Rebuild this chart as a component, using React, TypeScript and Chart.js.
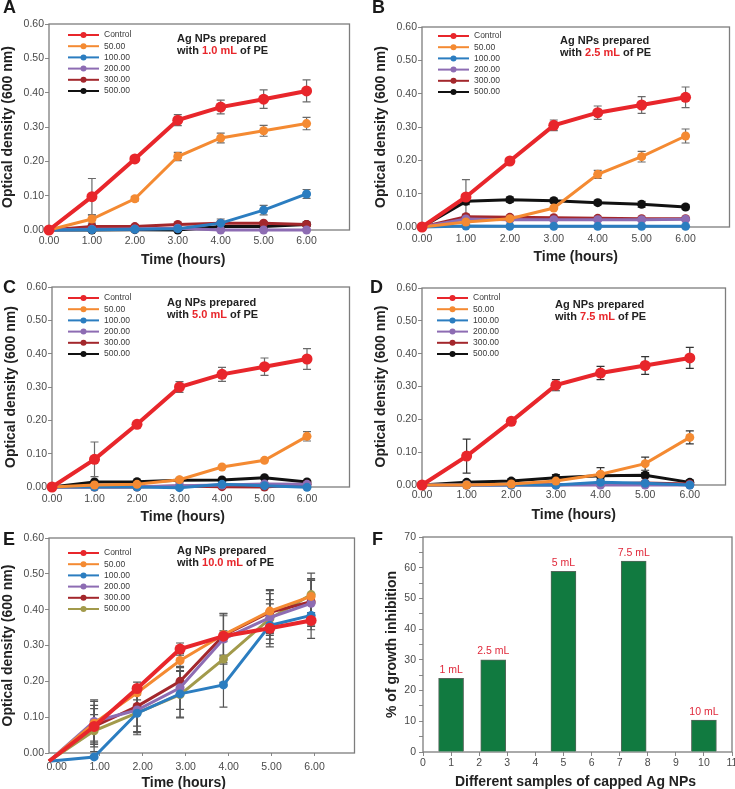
import React, { useEffect, useRef } from 'react';
import { Chart, registerables } from 'chart.js';

Chart.register(...registerables);

const FONT = '"Liberation Sans", Arimo, Arial, Helvetica, sans-serif';
Chart.defaults.font.family = FONT;

// ---------- shared ----------
const HOURS = [0, 1, 2, 3, 4, 5, 6];
const HOURS_E = [-0.18, 0.87, 1.87, 2.87, 3.88, 4.96, 5.92];
const HOUR_TICKS = [0, 1, 2, 3, 4, 5, 6];
const SERIES_NAMES = ['Control', '50.00', '100.00', '200.00', '300.00', '500.00'];
const COLORS_AD = ['#e8262b', '#f48a32', '#2b7dc0', '#8d6cb3', '#a3272c', '#111111'];
const COLORS_E = ['#e8262b', '#f48a32', '#2b7dc0', '#8d6cb3', '#a3272c', '#a29a4b'];

// ---------- Panel A (1.0 mL) ----------
const A_CONTROL = [0, 0.097, 0.207, 0.32, 0.358, 0.381, 0.405];
const A_50 = [0, 0.032, 0.091, 0.214, 0.268, 0.289, 0.31];
const A_100 = [0, 0.001, 0.002, 0.004, 0.02, 0.058, 0.105];
const A_200 = [0, 0.002, 0.003, 0.005, 0.0, 0.0, 0.0];
const A_300 = [0, 0.01, 0.01, 0.016, 0.02, 0.02, 0.016];
const A_500 = [0, 0.0, 0.001, 0.0, 0.01, 0.01, 0.016];
const A_CONTROL_ERR = [0, 0.053, 0.006, 0.016, 0.02, 0.027, 0.032];
const A_50_ERR = [0, 0.012, 0.006, 0.012, 0.014, 0.016, 0.018];
const A_100_ERR = [0, 0, 0, 0, 0.012, 0.014, 0.013];
const A_300_ERR = [0, 0.006, 0.006, 0.004, 0.006, 0.004, 0.003];

// ---------- Panel B (2.5 mL) ----------
const B_CONTROL = [0, 0.09, 0.198, 0.305, 0.343, 0.366, 0.389];
const B_50 = [0, 0.015, 0.025, 0.057, 0.158, 0.211, 0.273];
const B_100 = [0, 0.003, 0.002, 0.002, 0.002, 0.002, 0.002];
const B_200 = [0, 0.024, 0.022, 0.022, 0.022, 0.022, 0.023];
const B_300 = [0, 0.031, 0.029, 0.028, 0.026, 0.025, 0.025];
const B_500 = [0, 0.077, 0.082, 0.079, 0.073, 0.068, 0.06];
const B_CONTROL_ERR = [0, 0.052, 0.007, 0.016, 0.02, 0.025, 0.031];
const B_50_ERR = [0, 0, 0, 0, 0.012, 0.016, 0.021];
const B_500_ERR = [0, 0.01, 0.008, 0.007, 0.007, 0.009, 0.007];

// ---------- Panel C (5.0 mL) ----------
const C_CONTROL = [0, 0.083, 0.188, 0.3, 0.338, 0.361, 0.384];
const C_50 = [0, 0.006, 0.008, 0.022, 0.06, 0.08, 0.152];
const C_100 = [0, 0.0, 0.0, -0.002, 0.008, 0.004, -0.001];
const C_200 = [0, 0.001, 0.001, 0.004, 0.006, 0.009, 0.008];
const C_300 = [0, 0.0, 0.0, 0.003, 0.001, 0.0, 0.008];
const C_500 = [0, 0.015, 0.016, 0.02, 0.021, 0.028, 0.015];
const C_CONTROL_ERR = [0, 0.052, 0.007, 0.016, 0.021, 0.026, 0.031];
const C_50_ERR = [0, 0, 0, 0, 0, 0, 0.014];

// ---------- Panel D (7.5 mL) ----------
const D_CONTROL = [0, 0.088, 0.194, 0.304, 0.341, 0.364, 0.387];
const D_50 = [0, 0.0, 0.003, 0.012, 0.033, 0.065, 0.145];
const D_100 = [0, 0.0, 0.0, 0.0, 0.008, 0.005, 0.0];
const D_200 = [0, 0, 0, 0, 0, 0, 0];
const D_300 = [0, 0.0, 0.001, 0.001, 0.003, 0.006, 0.003];
const D_500 = [0, 0.008, 0.012, 0.022, 0.028, 0.03, 0.008];
const D_CONTROL_ERR = [0, 0.052, 0.008, 0.017, 0.02, 0.027, 0.032];
const D_50_ERR = [0, 0, 0, 0, 0.02, 0.02, 0.02];
const D_500_ERR = [0, 0.005, 0.007, 0.01, 0.01, 0.008, 0.007];

// ---------- Panel E (10.0 mL) ----------
const E_CONTROL = [-0.023, 0.074, 0.18, 0.29, 0.326, 0.348, 0.37];
const E_50 = [-0.023, 0.083, 0.168, 0.258, 0.33, 0.396, 0.437];
const E_100 = [-0.023, -0.011, 0.111, 0.165, 0.19, 0.356, 0.384];
const E_200 = [-0.023, 0.088, 0.12, 0.182, 0.318, 0.378, 0.418];
const E_300 = [-0.023, 0.074, 0.13, 0.2, 0.328, 0.393, 0.422];
const E_500 = [-0.023, 0.062, 0.112, 0.163, 0.262, 0.375, 0.442];
const E_CONTROL_ERR = [0, 0.07, 0.018, 0.017, 0.015, 0.03, 0.05];
const E_50_ERR = [0, 0.05, 0.02, 0.02, 0.06, 0.06, 0.045];
const E_100_ERR = [0, 0, 0.06, 0.065, 0.062, 0.06, 0.04];
const E_200_ERR = [0, 0.06, 0.06, 0.06, 0.07, 0.05, 0.065];
const E_300_ERR = [0, 0.05, 0.055, 0.04, 0.055, 0.06, 0.065];
const E_500_ERR = [0, 0.045, 0.055, 0.065, 0.065, 0.07, 0.06];

// ---------- Panel F ----------
const F_X = [1, 2.5, 5, 7.5, 10];
const F_VALUES = [24, 30, 58.8, 62.2, 10.4];
const F_LABELS = ['1 mL', '2.5 mL', '5 mL', '7.5 mL', '10 mL'];

const Y_W = 49;
const PAD_T = 12;
const X_H = 40;

// ---------- plugins ----------
const framePlugin = {
  id: 'frame',
  beforeDatasetsDraw(chart: any) {
    const { ctx, chartArea: a } = chart;
    ctx.save();
    ctx.strokeStyle = '#7d7d7d';
    ctx.lineWidth = 1.3;
    ctx.strokeRect(a.left, a.top, a.right - a.left, a.bottom - a.top);
    ctx.restore();
  },
};

const errPlugin = {
  id: 'errbars',
  beforeDatasetsDraw(chart: any, _args: any, opts: any) {
    const errs = opts.errors;
    if (!errs) return;
    const { ctx } = chart;
    const ys = chart.scales.y;
    ctx.save();
    ctx.strokeStyle = opts.color || '#666';
    ctx.lineWidth = 1.2;
    chart.data.datasets.forEach((ds: any, i: number) => {
      const e = errs[i];
      if (!e) return;
      const meta = chart.getDatasetMeta(i);
      meta.data.forEach((pt: any, j: number) => {
        if (!e[j]) return;
        const v = ds.data[j].y;
        const x = pt.x;
        const y1 = ys.getPixelForValue(v + e[j]);
        const y2 = ys.getPixelForValue(v - e[j]);
        ctx.beginPath();
        ctx.moveTo(x, y1);
        ctx.lineTo(x, y2);
        ctx.moveTo(x - 4, y1);
        ctx.lineTo(x + 4, y1);
        ctx.moveTo(x - 4, y2);
        ctx.lineTo(x + 4, y2);
        ctx.stroke();
      });
    });
    ctx.restore();
  },
};

const keyPlugin = {
  id: 'seriesKey',
  afterDatasetsDraw(chart: any, _args: any, opts: any) {
    if (opts.dx == null) return;
    const { ctx, chartArea: a } = chart;
    ctx.save();
    ctx.font = `8.5px ${FONT}`;
    ctx.textBaseline = 'middle';
    chart.data.datasets.forEach((ds: any, i: number) => {
      const y = a.top + opts.dy + i * 11.2;
      const x0 = a.left + opts.dx;
      const len = 31;
      ctx.strokeStyle = ds.borderColor;
      ctx.lineWidth = 2;
      ctx.beginPath();
      ctx.moveTo(x0, y);
      ctx.lineTo(x0 + len, y);
      ctx.stroke();
      ctx.fillStyle = ds.borderColor;
      ctx.beginPath();
      ctx.arc(x0 + len / 2, y, 3, 0, Math.PI * 2);
      ctx.fill();
      ctx.fillStyle = '#3a3a3a';
      ctx.fillText(ds.label, x0 + len + 5, y);
    });
    ctx.restore();
  },
};

const notePlugin = {
  id: 'note',
  afterDatasetsDraw(chart: any, _args: any, opts: any) {
    if (!opts.amount) return;
    const { ctx, chartArea: a } = chart;
    ctx.save();
    ctx.font = `bold 11px ${FONT}`;
    ctx.textBaseline = 'middle';
    ctx.textAlign = 'left';
    const x = a.left + opts.dx;
    const y = a.top + opts.dy;
    ctx.fillStyle = '#222';
    ctx.fillText('Ag NPs prepared', x, y);
    const y2 = y + 11.8;
    const p1 = 'with ';
    ctx.fillText(p1, x, y2);
    let cx = x + ctx.measureText(p1).width;
    ctx.fillStyle = '#e8262b';
    ctx.fillText(opts.amount, cx, y2);
    cx += ctx.measureText(opts.amount).width;
    ctx.fillStyle = '#222';
    ctx.fillText(' of PE', cx, y2);
    ctx.restore();
  },
};

const xTitlePlugin = {
  id: 'xtitle',
  afterDraw(chart: any, _args: any, opts: any) {
    if (!opts.text) return;
    const { ctx, chartArea: a } = chart;
    ctx.save();
    ctx.font = `bold 14px ${FONT}`;
    ctx.fillStyle = '#222';
    ctx.textAlign = 'center';
    ctx.textBaseline = 'middle';
    ctx.fillText(opts.text, (a.left + a.right) / 2 + (opts.shift || 0), a.bottom + 30);
    ctx.restore();
  },
};

const barLabelPlugin = {
  id: 'barLabels',
  afterDatasetsDraw(chart: any, _args: any, opts: any) {
    if (!opts.labels) return;
    const { ctx } = chart;
    const meta = chart.getDatasetMeta(0);
    ctx.save();
    ctx.font = `10.5px ${FONT}`;
    ctx.fillStyle = '#e0283a';
    ctx.textAlign = 'center';
    ctx.textBaseline = 'bottom';
    meta.data.forEach((bar: any, i: number) => {
      ctx.fillText(opts.labels[i], bar.x, bar.y - 3);
    });
    ctx.restore();
  },
};

const tickFont = { size: 10.5 };
const tickColor = '#4a4a4a';

type Plot = { l: number; t: number; r: number; b: number };

function canvasBox(plot: Plot, yw: number) {
  const left = plot.l - yw;
  const top = plot.t - PAD_T;
  const right = Math.min(735, plot.r + 3);
  const width = right - left;
  const height = PAD_T + (plot.b - plot.t) + X_H;
  return { left, top, width, height, padRight: right - plot.r };
}

function makeLineConfig(spec: any) {
  const box = canvasBox(spec.plot, Y_W);
  const datasets = spec.series.map((vals: number[], i: number) => ({
    label: SERIES_NAMES[i],
    data: vals.map((v, j) => ({ x: spec.xs[j], y: v })),
    borderColor: spec.colors[i],
    backgroundColor: spec.colors[i],
    borderWidth: i === 0 ? 4 : 3,
    pointRadius: i === 0 ? 5.5 : 4.5,
    pointBorderWidth: 0,
    tension: 0,
    clip: false,
  }));
  const config: any = {
    type: 'line',
    data: { datasets },
    options: {
      responsive: false,
      animation: false,
      events: [],
      layout: { padding: { top: PAD_T, left: 0, right: box.padRight, bottom: 0 } },
      plugins: {
        legend: { display: false },
        tooltip: { enabled: false },
        errbars: { errors: spec.errors, color: spec.errColor },
        seriesKey: { dx: spec.legendDx, dy: spec.legendDy },
        note: { amount: spec.amount, dx: spec.noteDx, dy: spec.noteDy },
        xtitle: { text: 'Time (hours)', shift: spec.titleShift },
      },
      scales: {
        x: {
          type: 'linear',
          min: spec.xMin,
          max: spec.xMax,
          afterBuildTicks: (s: any) => {
            s.ticks = HOUR_TICKS.map((v) => ({ value: v }));
          },
          afterFit: (s: any) => {
            s.height = X_H;
            s.paddingLeft = 0;
            s.paddingRight = 0;
          },
          ticks: {
            callback: (v: any) => Number(v).toFixed(2),
            font: tickFont,
            color: tickColor,
            padding: spec.xTickPad,
            maxRotation: 0,
            autoSkip: false,
          },
          grid: { display: true, drawOnChartArea: false, tickLength: 3, color: '#888' },
          border: { display: false },
        },
        y: {
          min: 0,
          max: 0.6,
          afterFit: (s: any) => {
            s.width = Y_W;
            s.paddingTop = 0;
            s.paddingBottom = 0;
          },
          ticks: {
            stepSize: 0.1,
            callback: (v: any) => Number(v).toFixed(2),
            font: tickFont,
            color: tickColor,
            padding: 1,
          },
          grid: { display: true, drawOnChartArea: false, tickLength: 4, color: '#888' },
          border: { display: false },
          title: {
            display: true,
            text: 'Optical density (600 nm)',
            font: { size: 14, weight: 'bold' },
            color: '#222',
            padding: 0,
          },
        },
      },
    },
    plugins: [framePlugin, errPlugin, keyPlugin, notePlugin, xTitlePlugin],
  };
  return { box, config };
}

function makeBarConfig() {
  const plot = { l: 423, t: 537, r: 732, b: 752 };
  const yw = 39;
  const box = canvasBox(plot, yw);
  const config: any = {
    type: 'bar',
    data: {
      datasets: [
        {
          label: '% of growth inhibition',
          data: F_X.map((x, i) => ({ x, y: F_VALUES[i] })),
          backgroundColor: '#117a40',
          borderColor: '#56665b',
          borderWidth: 1,
          barThickness: 25,
          clip: false,
        },
      ],
    },
    options: {
      responsive: false,
      animation: false,
      events: [],
      layout: { padding: { top: PAD_T, left: 0, right: box.padRight, bottom: 0 } },
      plugins: {
        legend: { display: false },
        tooltip: { enabled: false },
        barLabels: { labels: F_LABELS },
        xtitle: { text: 'Different samples of capped Ag NPs', shift: -2 },
      },
      scales: {
        x: {
          type: 'linear',
          min: 0,
          max: 11,
          offset: false,
          afterFit: (s: any) => {
            s.height = X_H;
            s.paddingLeft = 0;
            s.paddingRight = 0;
          },
          ticks: { stepSize: 1, font: tickFont, color: tickColor, padding: 1, maxRotation: 0, autoSkip: false },
          grid: { display: true, offset: false, drawOnChartArea: false, tickLength: 4, color: '#888' },
          border: { display: false },
        },
        y: {
          min: 0,
          max: 70,
          afterFit: (s: any) => {
            s.width = yw;
            s.paddingTop = 0;
            s.paddingBottom = 0;
          },
          ticks: {
            stepSize: 5,
            autoSkip: false,
            callback: (v: any) => (Number(v) % 10 === 0 ? String(v) : ''),
            font: tickFont,
            color: tickColor,
            padding: 3,
          },
          grid: { display: true, drawOnChartArea: false, tickLength: 4, color: '#888' },
          border: { display: false },
          title: {
            display: true,
            text: '% of growth inhibition',
            font: { size: 14, weight: 'bold' },
            color: '#222',
            padding: 0,
          },
        },
      },
    },
    plugins: [framePlugin, barLabelPlugin, xTitlePlugin],
  };
  return { box, config };
}

const PANELS = [
  makeLineConfig({
    plot: { l: 49, t: 24, r: 352, b: 230 },
    xs: HOURS, xMin: 0, xMax: 7,
    series: [A_CONTROL, A_50, A_100, A_200, A_300, A_500],
    errors: [A_CONTROL_ERR, A_50_ERR, A_100_ERR, null, A_300_ERR, null],
    colors: COLORS_AD, errColor: '#6a6a6a', amount: '1.0 mL',
    legendDx: 19, legendDy: 11, noteDx: 128, noteDy: 15, titleShift: -16, xTickPad: 2,
  }),
  makeLineConfig({
    plot: { l: 422, t: 27, r: 733, b: 227 },
    xs: HOURS, xMin: 0, xMax: 7,
    series: [B_CONTROL, B_50, B_100, B_200, B_300, B_500],
    errors: [B_CONTROL_ERR, B_50_ERR, null, null, null, B_500_ERR],
    colors: COLORS_AD, errColor: '#6a6a6a', amount: '2.5 mL',
    legendDx: 16, legendDy: 9, noteDx: 138, noteDy: 14, titleShift: 0, xTickPad: 3,
  }),
  makeLineConfig({
    plot: { l: 52, t: 287, r: 352, b: 487 },
    xs: HOURS, xMin: 0, xMax: 7,
    series: [C_CONTROL, C_50, C_100, C_200, C_300, C_500],
    errors: [C_CONTROL_ERR, C_50_ERR, null, null, null, null],
    colors: COLORS_AD, errColor: '#6a6a6a', amount: '5.0 mL',
    legendDx: 16, legendDy: 11, noteDx: 115, noteDy: 16, titleShift: -18, xTickPad: 3,
  }),
  makeLineConfig({
    plot: { l: 422, t: 288, r: 728, b: 485 },
    xs: HOURS, xMin: 0, xMax: 6.8,
    series: [D_CONTROL, D_50, D_100, D_200, D_300, D_500],
    errors: [D_CONTROL_ERR, D_50_ERR, null, null, null, D_500_ERR],
    colors: COLORS_AD, errColor: '#333', amount: '7.5 mL',
    legendDx: 15, legendDy: 10, noteDx: 133, noteDy: 17, titleShift: 0, xTickPad: 1,
  }),
  makeLineConfig({
    plot: { l: 49, t: 538, r: 357, b: 753 },
    xs: HOURS_E, xMin: -0.18, xMax: 6.93,
    series: [E_CONTROL, E_50, E_100, E_200, E_300, E_500],
    errors: [E_CONTROL_ERR, E_50_ERR, E_100_ERR, E_200_ERR, E_300_ERR, E_500_ERR],
    colors: COLORS_E, errColor: '#555', amount: '10.0 mL',
    legendDx: 19, legendDy: 15, noteDx: 128, noteDy: 13, titleShift: -18, xTickPad: 5,
  }),
  makeBarConfig(),
];

const LETTERS = [
  { t: 'A', left: 3, top: -2 },
  { t: 'B', left: 372, top: -2 },
  { t: 'C', left: 3, top: 278 },
  { t: 'D', left: 370, top: 278 },
  { t: 'E', left: 3, top: 530 },
  { t: 'F', left: 372, top: 530 },
];

function ChartCanvas({ box, config }: any) {
  const ref = useRef<HTMLCanvasElement | null>(null);
  useEffect(() => {
    if (!ref.current) return;
    const chart = new Chart(ref.current, config);
    return () => chart.destroy();
  }, [config]);
  return (
    <canvas
      ref={ref}
      width={box.width}
      height={box.height}
      style={{ position: 'absolute', left: box.left, top: box.top, width: box.width, height: box.height }}
    />
  );
}

export default function App() {
  return (
    <div
      style={{
        position: 'absolute',
        left: 0,
        top: 0,
        width: 735,
        height: 789,
        background: '#ffffff',
        overflow: 'hidden',
        fontFamily: FONT,
      }}
    >
      {PANELS.map((p, i) => (
        <ChartCanvas key={i} box={p.box} config={p.config} />
      ))}
      {LETTERS.map((l) => (
        <div
          key={l.t}
          style={{
            position: 'absolute',
            left: l.left,
            top: l.top,
            fontSize: 18,
            lineHeight: '18px',
            fontWeight: 'bold',
            color: '#1a1a1a',
          }}
        >
          {l.t}
        </div>
      ))}
    </div>
  );
}
